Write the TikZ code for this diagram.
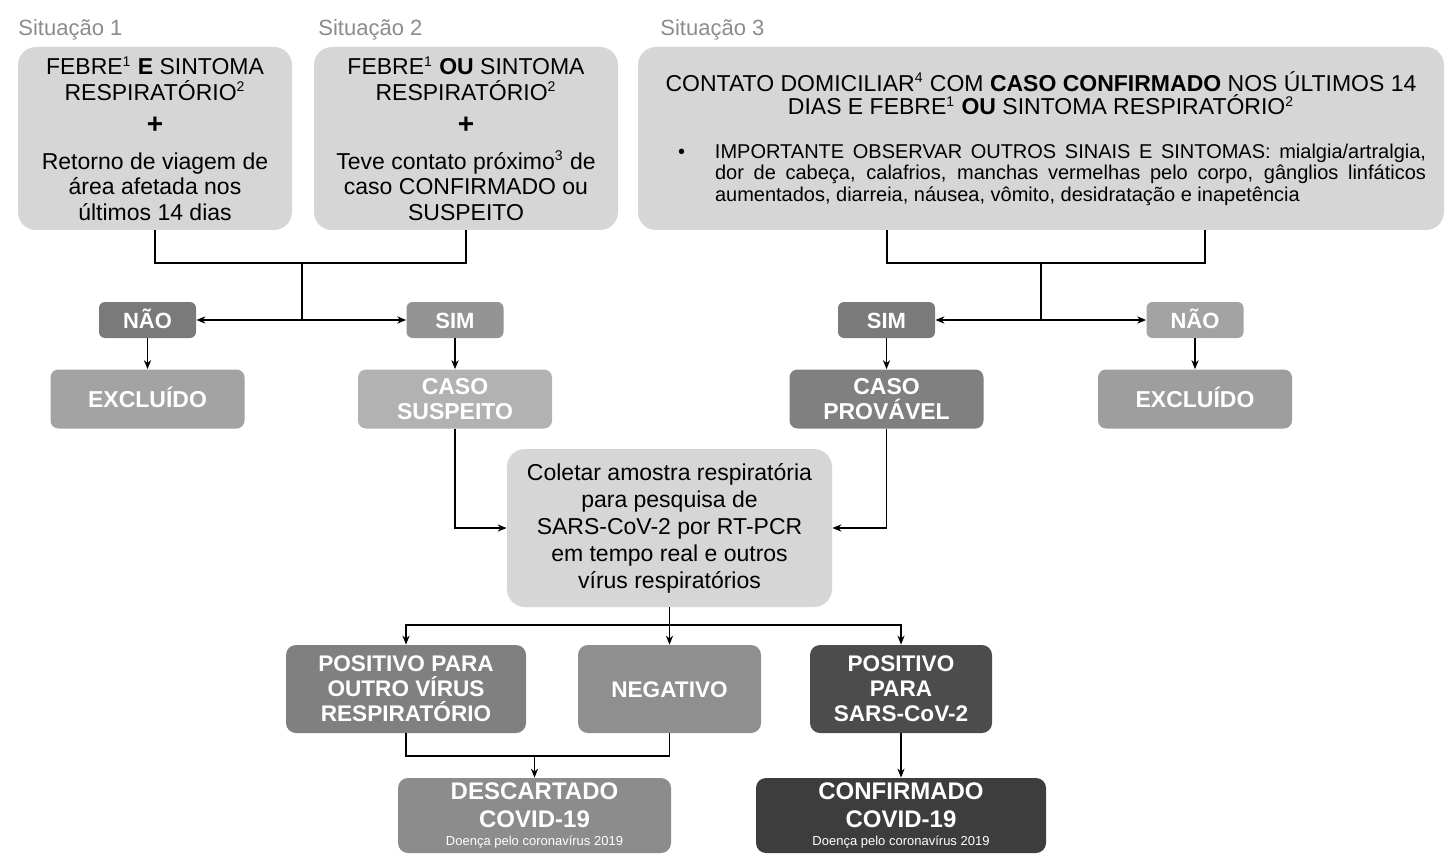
\documentclass[tikz,border=0pt]{standalone}
\usepackage{fontspec}
\setmainfont{Liberation Sans}
\usetikzlibrary{arrows.meta}
\newcommand\supnum[1]{\textsuperscript{\fontsize{7}{7}\selectfont #1}}
\begin{document}
\begin{tikzpicture}[x=0.5pt,y=-0.5pt,
  conn/.style={line width=0.6pt, draw=black},
  arr/.style={conn, -{Stealth[length=4.5pt,width=3.6pt]}},
  sitlabel/.style={anchor=west, inner sep=0pt, text=black!45, font=\fontsize{11}{12}\selectfont},
  topbox/.style={fill=black!16, rounded corners=9pt, inner sep=0pt, align=center, minimum height=91.5pt, font=\fontsize{11.5}{12.75}\selectfont},
  ynbox/.style={rounded corners=3pt, inner sep=0pt, minimum width=48.5pt, minimum height=18pt, text height=8.2pt, text depth=0pt, text=white, font=\bfseries\fontsize{11}{12}\selectfont},
  midbox/.style={rounded corners=4pt, inner sep=0pt, minimum width=97pt, minimum height=29.5pt, text=white, align=center, font=\bfseries\fontsize{11.5}{12.5}\selectfont},
  oneline/.style={text height=8.4pt, text depth=0pt},
  colbox/.style={fill=black!16, rounded corners=9pt, inner sep=0pt, align=center, minimum width=162.5pt, minimum height=79pt, font=\fontsize{11.5}{13.5}\selectfont},
  resbox/.style={rounded corners=5pt, inner sep=0pt, minimum height=44pt, text=white, align=center, font=\bfseries\fontsize{11.3}{12.5}\selectfont},
  finbox/.style={rounded corners=5pt, inner sep=0pt, minimum height=37.5pt, text=white, align=center, font=\bfseries\fontsize{12}{14}\selectfont}
]
\fill[white] (0,0) rectangle (1449,866);
\useasboundingbox (0,0) rectangle (1449,866);

% labels
\node[sitlabel] (lab1) at (18,30) {Situação 1};
\node[sitlabel] (lab2) at (318,30) {Situação 2};
\node[sitlabel] (lab3) at (660,30) {Situação 3};

% top boxes
\node[topbox, minimum width=137pt] (s1) at (155,138.5) {%
FEBRE\supnum{1} \textbf{E} SINTOMA\\
RESPIRATÓRIO\supnum{2}\\[4pt]
{\bfseries\fontsize{14}{14}\selectfont +}\\[5pt]
Retorno de viagem de\\
área afetada nos\\
últimos 14 dias};

\node[topbox, minimum width=152pt] (s2) at (466,138.5) {%
FEBRE\supnum{1} \textbf{OU} SINTOMA\\
RESPIRATÓRIO\supnum{2}\\[4pt]
{\bfseries\fontsize{14}{14}\selectfont +}\\[5pt]
Teve contato próximo\supnum{3} de\\
caso CONFIRMADO ou\\
SUSPEITO};

\node[topbox, align=justify, text width=395pt, minimum width=403pt] (s3) at (1041,138.5) {%
{\centering\fontsize{11.5}{11.75}\selectfont CONTATO DOMICILIAR\supnum{4} COM \textbf{CASO CONFIRMADO} NOS ÚLTIMOS 14\\
DIAS E FEBRE\supnum{1} \textbf{OU} SINTOMA RESPIRATÓRIO\supnum{2}\par}
\vspace{11pt}
{\fontsize{10}{10.75}\selectfont\leftskip=34.5pt\rightskip=5pt\parindent=0pt\noindent\hspace*{-18.5pt}\makebox[18.5pt][l]{\textbullet}IMPORTANTE OBSERVAR OUTROS SINAIS E SINTOMAS: mialgia/artralgia,\linebreak
dor de cabeça, calafrios, manchas vermelhas pelo corpo, gânglios linfáticos\linebreak
aumentados, diarreia, náusea, vômito, desidratação e inapetência\par}};

% yes / no
\node[ynbox, fill=black!52] (naoL) at (147.5,320) {NÃO};
\node[ynbox, fill=black!42] (simL) at (455,320) {SIM};
\node[ynbox, fill=black!52] (simR) at (886.5,320) {SIM};
\node[ynbox, fill=black!36] (naoR) at (1195,320) {NÃO};

% mid boxes
\node[midbox, oneline, fill=black!36] (excL) at (147.5,399) {EXCLUÍDO};
\node[midbox, fill=black!30] (susp) at (455,399) {CASO\\SUSPEITO};
\node[midbox, fill=black!50] (prov) at (886.5,399) {CASO\\PROVÁVEL};
\node[midbox, oneline, fill=black!38] (excR) at (1195,399) {EXCLUÍDO};

% collect
\node[colbox] (col) at (669.5,528) {%
Coletar amostra respiratória\\
para pesquisa de\\
SARS-CoV-2 por RT-PCR\\
em tempo real e outros\\
vírus respiratórios};

% results
\node[resbox, fill=black!50, minimum width=120pt] (posO) at (406,689) {POSITIVO PARA\\OUTRO VÍRUS\\RESPIRATÓRIO};
\node[resbox, fill=black!44, minimum width=91.5pt, text height=8.2pt, text depth=0pt] (neg) at (669.5,689) {NEGATIVO};
\node[resbox, fill=black!70, minimum width=91pt] (posS) at (901,689) {POSITIVO\\PARA\\SARS-CoV-2};

\node[finbox, fill=black!45, minimum width=136.5pt] (desc) at (534.5,815.5) {DESCARTADO\\COVID-19\\[-5pt]{\mdseries\fontsize{6.5}{7}\selectfont Doença pelo coronavírus 2019}};
\node[finbox, fill=black!76, minimum width=145pt] (conf) at (901,815.5) {CONFIRMADO\\COVID-19\\[-5pt]{\mdseries\fontsize{6.5}{7}\selectfont Doença pelo coronavírus 2019}};

% connectors: situation 1 & 2
\coordinate (j1) at (302,263);
\coordinate (k1) at (302,320);
\draw[conn] (s1.south) |- (j1) -| (s2.south);
\draw[conn] (j1) -- (k1);
\draw[arr] (k1) -- (naoL.east);
\draw[arr] (k1) -- (simL.west);
\draw[arr] (naoL.south) -- (excL.north);
\draw[arr] (simL.south) -- (susp.north);

% connectors: situation 3
\coordinate (s3a) at (887,230);
\coordinate (s3b) at (1205,230);
\coordinate (j2) at (1041,263);
\coordinate (k2) at (1041,320);
\draw[conn] (s3a) |- (j2) -| (s3b);
\draw[conn] (j2) -- (k2);
\draw[arr] (k2) -- (simR.east);
\draw[arr] (k2) -- (naoR.west);
\draw[arr] (simR.south) -- (prov.north);
\draw[arr] (naoR.south) -- (excR.north);

% to collect
\draw[arr] (susp.south) |- (col.west);
\draw[arr] (prov.south) |- (col.east);

% results
\coordinate (j3) at (669.5,625);
\draw[conn] (col.south) -- (j3);
\draw[arr] (j3) -| (posO.north);
\draw[arr] (j3) -- (neg.north);
\draw[arr] (j3) -| (posS.north);

\coordinate (j4) at (534.5,756);
\draw[conn] (posO.south) |- (j4) -| (neg.south);
\draw[arr] (j4) -- (desc.north);
\draw[arr] (posS.south) -- (conf.north);
\end{tikzpicture}
\end{document}
